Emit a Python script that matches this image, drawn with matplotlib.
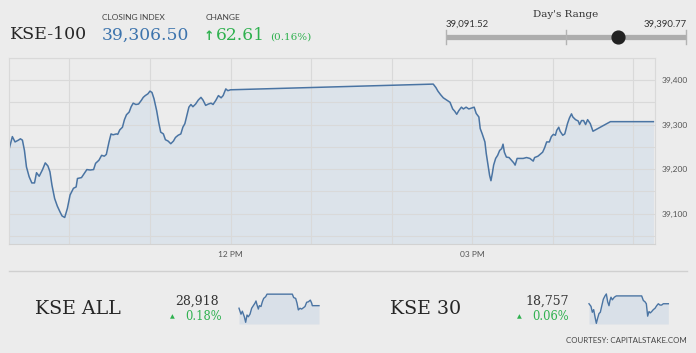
import matplotlib
matplotlib.use('Agg')
import matplotlib.pyplot as plt
import numpy as np

# ---------------- data ----------------
# KSE-100 intraday: minutes after 09:15, index level
kse100_minutes = [0, 2.5, 4.5, 7, 8.5, 10, 11.5, 13, 15, 17, 19, 20.5, 22.5, 25, 27, 29, 30.5, 32, 34, 36,
                  38, 39.5, 41.5, 43.5, 45.5, 48, 50, 51, 54, 56, 58, 60.5, 63, 64.5, 67, 69, 71, 72.5, 74.5, 76,
                  77.5, 80, 81, 82.5, 84.5, 86, 87.5, 89.5, 91, 92.5, 94.5, 96.5, 98.5, 100, 101.5, 103.5, 105,
                  106.5, 108, 110, 111.5, 113, 115, 116.5, 118.5, 120.5, 122.5, 124, 126, 128, 129.5, 131, 132.5,
                  134, 135.5, 137, 139, 141, 143, 144.5, 146.5, 148.5, 150.5, 152, 154, 156, 158, 159.5, 161.5,
                  163, 165, 316, 318, 319.5, 321.5, 323.5, 326, 328.5, 330.5, 332, 333.5, 335, 337, 338.5, 340.5,
                  342.5, 344.5, 346.5, 348, 350, 351, 352.5, 354.5, 355.5, 357, 358, 359, 360, 361, 362.5, 364,
                  365.5, 367, 368, 369, 370.5, 372.5, 374, 376, 377, 378.5, 380.5, 383, 385.5, 388, 390.5, 391.5,
                  394, 397.5, 399, 400.5, 402.5, 404, 405.5, 407, 408, 409.5, 410.5, 412.5, 414, 416, 417.5, 419,
                  420, 422, 424, 425, 426.5, 428, 429.5, 431, 433, 435, 448, 480]
kse100_values = [39244, 39273, 39261, 39265, 39268, 39265, 39242, 39205, 39183, 39169, 39169, 39192, 39184,
                 39199, 39214, 39207, 39194, 39164, 39134, 39117, 39104, 39095, 39091.52, 39112, 39142, 39157,
                 39160, 39179, 39181, 39190, 39199, 39198, 39199, 39213, 39220, 39231, 39229, 39233, 39261,
                 39279, 39277, 39279, 39278, 39288, 39294, 39311, 39322, 39328, 39340, 39348, 39345, 39346,
                 39354, 39361, 39365, 39369, 39375, 39372, 39358, 39331, 39305, 39283, 39279, 39266, 39263,
                 39257, 39263, 39271, 39276, 39279, 39294, 39302, 39320, 39339, 39345, 39340, 39346, 39355,
                 39361, 39355, 39343, 39346, 39348, 39345, 39354, 39365, 39360, 39365, 39380, 39376, 39378,
                 39390.77, 39383, 39375, 39367, 39360, 39355, 39350, 39335, 39330, 39323, 39331, 39339, 39335,
                 39339, 39335, 39337, 39339, 39325, 39317, 39291, 39279, 39261, 39235, 39205, 39186, 39174,
                 39190, 39209, 39224, 39231, 39242, 39246, 39256, 39238, 39227, 39226, 39221, 39214, 39209,
                 39224, 39224, 39224, 39226, 39224, 39218, 39226, 39229, 39238, 39248, 39261, 39261, 39273,
                 39278, 39276, 39287, 39294, 39285, 39276, 39279, 39302, 39315, 39324, 39317, 39311, 39308,
                 39300, 39309, 39309, 39300, 39311, 39302, 39285, 39306.5, 39306.5]

closing_index = 39306.50
change_points = 62.61
change_pct = 0.16
day_low = 39091.52
day_high = 39390.77

x_tick_hours = [10, 11, 12, 13, 14, 15, 16, 17]
x_tick_labels = ['', '', '12 PM', '', '', '03 PM', '', '']
y_grid = [39050, 39100, 39150, 39200, 39250, 39300, 39350, 39400, 39450]
y_tick_labels = ['', '39,100', '', '39,200', '', '39,300', '', '39,400', '']

# KSE ALL sparkline
kseall_minutes = [0, 12, 20, 32, 40, 48, 56, 66, 76, 86, 96, 102, 108, 116, 122, 132, 140, 148, 160, 168,
                  320, 328, 340, 348, 356, 366, 376, 386, 396, 406, 416, 428, 436, 440, 480]
kseall_values = [28912, 28898, 28905, 28892, 28879, 28896, 28892, 28898, 28912, 28918, 28924, 28929, 28920,
                 28910, 28918, 28916, 28927, 28935, 28939, 28945, 28945, 28937, 28935, 28924, 28908, 28912,
                 28910, 28913, 28916, 28926, 28927, 28931, 28924, 28918, 28918]
kseall_close = '28,918'
kseall_pct = '0.18%'

# KSE 30 sparkline
kse30_minutes = [0, 12, 20, 28, 36, 44, 52, 60, 68, 76, 86, 96, 104, 112, 120, 126, 132, 140, 152, 164,
                 316, 326, 336, 344, 352, 360, 368, 376, 386, 396, 406, 416, 426, 436, 446, 476]
kse30_values = [18757, 18753, 18744, 18748, 18737, 18727, 18735, 18742, 18744, 18753, 18764, 18769, 18772,
                18760, 18754, 18762, 18767, 18763, 18767, 18769, 18769, 18762, 18760, 18757, 18738, 18745,
                18743, 18745, 18748, 18750, 18754, 18757, 18755, 18755, 18757, 18757]
kse30_close = '18,757'
kse30_pct = '0.06%'

# ---------------- style ----------------
W, H = 696, 353
BG = '#ececec'
GRID = '#d9d9d9'
LINE = '#4a74a3'
FILL = '#dce3ea'
GREEN = '#2fb14f'
BLUE = '#3d74ad'
SERIF = 'DejaVu Serif'
SANS = 'Lato'

fig = plt.figure(figsize=(W / 100, H / 100), dpi=100, facecolor=BG)


def rect(x0, y0, x1, y1):
    return [x0 / W, 1 - y1 / H, (x1 - x0) / W, (y1 - y0) / H]


# overlay for text in pixel coordinates
ov = fig.add_axes([0, 0, 1, 1], zorder=5)
ov.set_xlim(0, W)
ov.set_ylim(H, 0)
ov.axis('off')
ov.patch.set_alpha(0)

# ---------------- main chart ----------------
ax = fig.add_axes(rect(9, 57.7, 655, 244))
ax.set_facecolor(BG)
hrs = 9.25 + np.array(kse100_minutes) / 60.0
ax.fill_between(hrs, kse100_values, 39000, color=FILL, lw=0, zorder=1)
ax.plot(hrs, kse100_values, color=LINE, lw=1.1, zorder=2)
ax.set_xlim(9.25, 17.27)
ax.set_ylim(39032, 39450)
ax.set_xticks(x_tick_hours)
ax.set_xticklabels(x_tick_labels, fontfamily=SANS, fontsize=6, color='#555555')
ax.set_yticks(y_grid)
ax.set_yticklabels(y_tick_labels, fontfamily=SANS, fontsize=6, color='#555555')
ax.yaxis.tick_right()
ax.tick_params(axis='both', length=0)
ax.tick_params(axis='y', pad=5)
ax.tick_params(axis='x', pad=5)
ax.grid(True, color=GRID, lw=0.8, zorder=1.5)
for s in ax.spines.values():
    s.set_color(GRID)
    s.set_linewidth(0.8)
ax.spines['bottom'].set_color('#d2d2d2')

# ---------------- header ----------------
ov.text(9.5, 39, 'KSE-100', fontfamily=SERIF, fontsize=12.5, color='#262626', va='baseline', ha='left')
ov.text(102, 20.5, 'CLOSING INDEX', fontfamily=SANS, fontsize=6, color='#444444', va='baseline', ha='left')
ov.text(101.5, 39.5, f'{closing_index:,.2f}', fontfamily=SERIF, fontsize=12.3, color=BLUE,
        va='baseline', ha='left')
ov.text(206, 20.5, 'CHANGE', fontfamily=SANS, fontsize=6, color='#444444', va='baseline', ha='left')
ov.text(208.8, 39.5, '\u2191', fontfamily='DejaVu Sans', fontsize=9, color=GREEN, va='baseline',
        ha='center', fontweight='bold')
ov.text(215.5, 39.5, f'{change_points:.2f}', fontfamily=SERIF, fontsize=12.3, color=GREEN,
        va='baseline', ha='left')
ov.text(270.5, 39.5, f'({change_pct:.2f}%)', fontfamily=SERIF, fontsize=7.5, color=GREEN,
        va='baseline', ha='left')

# day's range
ov.text(566, 17, "Day's Range", fontfamily=SERIF, fontsize=7.5, color='#333333', va='baseline', ha='center')
ov.text(446, 27, f'{day_low:,.2f}', fontfamily=SANS, fontsize=6.8, color='#333333', va='baseline', ha='left')
ov.text(687, 27, f'{day_high:,.2f}', fontfamily=SANS, fontsize=6.8, color='#333333', va='baseline', ha='right')

rax = fig.add_axes(rect(446, 29, 686, 45))
rax.set_xlim(day_low, day_high)
rax.set_ylim(0, 1)
rax.axis('off')
rax.plot([day_low, day_high], [0.5, 0.5], color='#adadad', lw=3.8, solid_capstyle='butt', zorder=1)
for v in (day_low, (day_low + day_high) / 2, day_high):
    rax.plot([v, v], [0.05, 0.95], color='#b3b3b3', lw=1.0, zorder=1, clip_on=False)
rax.plot([closing_index], [0.5], 'o', color='#222222', markersize=9.2, zorder=3, clip_on=False)

# ---------------- bottom section ----------------
ov.plot([9, 687], [271, 271], color='#d0d0d0', lw=1.0)

ov.text(35, 314.5, 'KSE ALL', fontfamily=SERIF, fontsize=13.7, color='#262626', va='baseline', ha='left')
ov.text(196.7, 305, kseall_close, fontfamily=SERIF, fontsize=9, color='#333333', va='baseline', ha='center')
ov.text(172.5, 316.5, '\u25B2', fontfamily='DejaVu Sans', fontsize=4.5, color=GREEN, va='center', ha='center')
ov.text(185.5, 320, kseall_pct, fontfamily=SERIF, fontsize=8.3, color=GREEN, va='baseline', ha='left')

ov.text(390, 314.5, 'KSE 30', fontfamily=SERIF, fontsize=13.7, color='#262626', va='baseline', ha='left')
ov.text(547, 305, kse30_close, fontfamily=SERIF, fontsize=9, color='#333333', va='baseline', ha='center')
ov.text(519.7, 316.5, '\u25B2', fontfamily='DejaVu Sans', fontsize=4.5, color=GREEN, va='center', ha='center')
ov.text(532.5, 320, kse30_pct, fontfamily=SERIF, fontsize=8.3, color=GREEN, va='baseline', ha='left')

ov.text(686.5, 343, 'COURTESY: CAPITALSTAKE.COM', fontfamily=SANS, fontsize=5.7, color='#444444',
        va='baseline', ha='right')


def sparkline(box, minutes, values, ylim):
    sa = fig.add_axes(rect(*box))
    sa.patch.set_alpha(0)
    m = np.array(minutes)
    sa.fill_between(m, values, ylim[0], color='#d9e0e8', lw=0)
    sa.plot(m, values, color=LINE, lw=1.0, clip_on=False)
    sa.set_xlim(0, 480)
    sa.set_ylim(*ylim)
    sa.axis('off')


sparkline((239, 293.3, 319, 324), kseall_minutes, kseall_values, (28875, 28947))
sparkline((589, 293.3, 669, 324), kse30_minutes, kse30_values, (18726, 18773))

fig.savefig('out.png', dpi=100, facecolor=BG)
